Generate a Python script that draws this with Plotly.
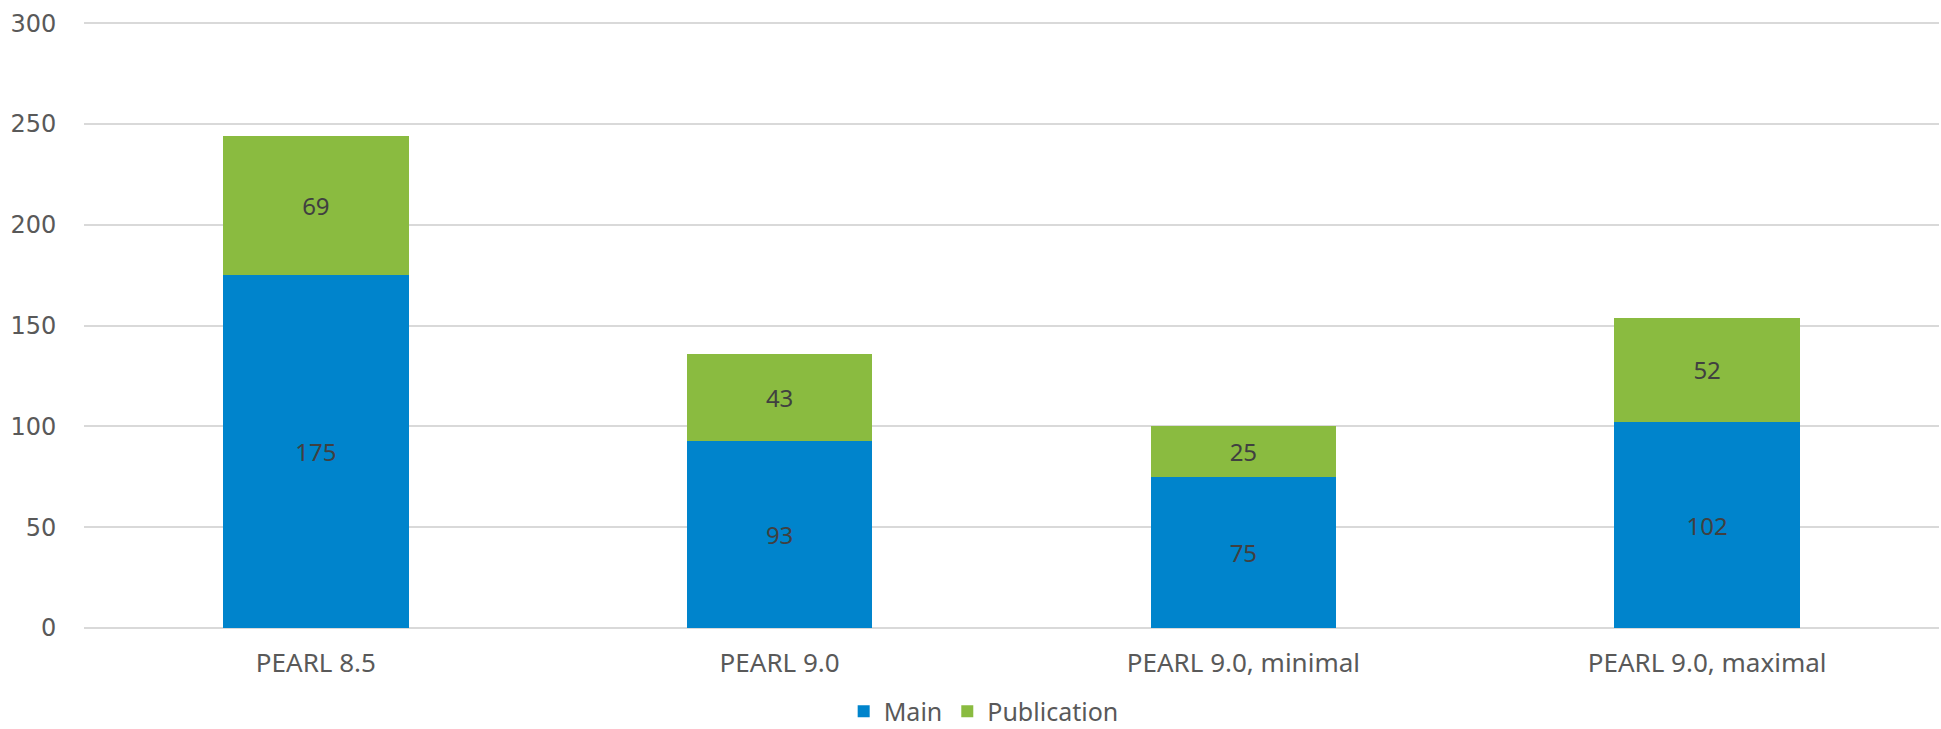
import plotly.graph_objects as go

categories = ["PEARL 8.5", "PEARL 9.0", "PEARL 9.0, minimal", "PEARL 9.0, maximal"]
main_vals = [175, 93, 75, 102]
publication_vals = [69, 43, 25, 52]
y_ticks = [0, 50, 100, 150, 200, 250, 300]

BLUE = "#0084CC"
GREEN = "#8ABB40"
LABEL_FONT = "Noto Sans"

fig = go.Figure()
fig.add_trace(go.Bar(
    name="Main", x=categories, y=main_vals, marker=dict(color=BLUE, line=dict(width=0)),
    text=main_vals, textposition="inside", insidetextanchor="middle",
    textfont=dict(family=LABEL_FONT, size=24, color="#404040"),
))
fig.add_trace(go.Bar(
    name="Publication", x=categories, y=publication_vals, marker=dict(color=GREEN, line=dict(width=0)),
    text=publication_vals, textposition="inside", insidetextanchor="middle",
    textfont=dict(family=LABEL_FONT, size=24, color="#404040"),
))

fig.update_layout(
    width=1941, height=729,
    barmode="stack", bargap=0.6,
    plot_bgcolor="white", paper_bgcolor="white",
    margin=dict(l=84, r=2, t=22, b=101, autoexpand=False),
    showlegend=True,
    legend=dict(orientation="h", x=0.485, xanchor="center", xref="paper",
                y=0.024, yref="container", yanchor="middle",
                font=dict(family=LABEL_FONT, size=25, color="#595959"), itemwidth=30,
                traceorder="normal"),
)
fig.update_xaxes(
    showgrid=False, showline=False, zeroline=False, automargin=False,
    tickfont=dict(family=LABEL_FONT, size=26, color="#595959"),
    ticks="outside", ticklen=12, tickcolor="rgba(0,0,0,0)",
)
fig.update_yaxes(
    range=[0, 300.6], tickvals=y_ticks, showgrid=True, gridcolor="#D9D9D9", gridwidth=1.5,
    zeroline=True, zerolinecolor="#D9D9D9", zerolinewidth=1.5, showline=False, automargin=False,
    tickfont=dict(family="DejaVu Sans", size=24, color="#595959"),
    ticks="outside", ticklen=22, tickcolor="rgba(0,0,0,0)",
)

fig.write_html(
    "out.html",
    config={"displayModeBar": False},
    post_script="document.body.style.margin='0';document.body.style.overflow='hidden';",
)
